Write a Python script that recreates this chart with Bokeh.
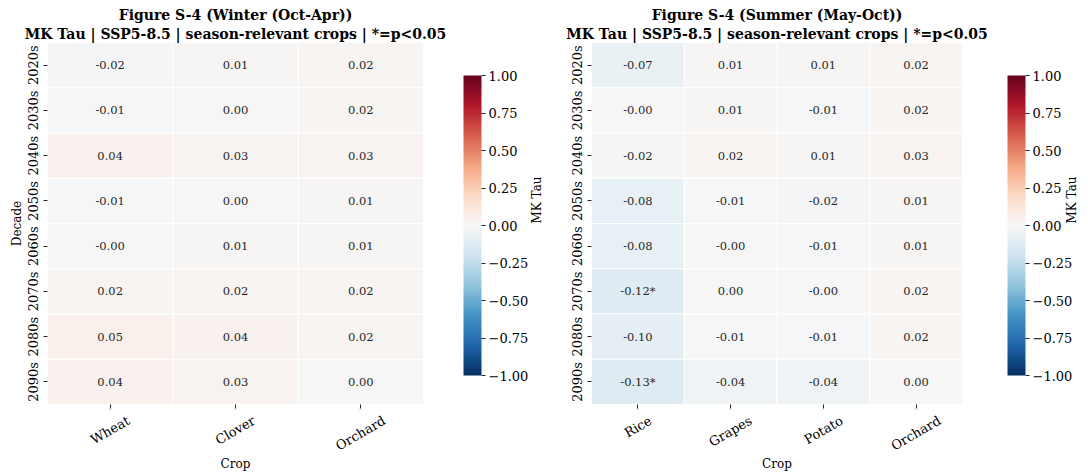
import math
import numpy as np
from bokeh.plotting import figure
from bokeh.models import (ColumnDataSource, LinearColorMapper, ColorBar, FixedTicker,
                          CustomJSTickFormatter, Title, CategoricalAxis, LinearAxis)
from bokeh.layouts import row
from bokeh.embed import file_html
from bokeh.resources import INLINE
from bokeh.core.properties import value

decades = ["2020s", "2030s", "2040s", "2050s", "2060s", "2070s", "2080s", "2090s"]

# Winter season (Oct-Apr) Mann-Kendall tau per crop
winter_crops = ["Wheat", "Clover", "Orchard"]
winter_wheat = [-0.02, -0.01, 0.04, -0.01, -0.0, 0.02, 0.05, 0.04]
winter_clover = [0.01, 0.00, 0.03, 0.00, 0.01, 0.02, 0.04, 0.03]
winter_orchard = [0.02, 0.02, 0.03, 0.01, 0.01, 0.02, 0.02, 0.00]
winter_sig = [[False] * 8, [False] * 8, [False] * 8]

# Summer season (May-Oct) Mann-Kendall tau per crop
summer_crops = ["Rice", "Grapes", "Potato", "Orchard"]
summer_rice = [-0.07, -0.0, -0.02, -0.08, -0.08, -0.12, -0.10, -0.13]
summer_grapes = [0.01, 0.01, 0.02, -0.01, -0.0, 0.00, -0.01, -0.04]
summer_potato = [0.01, -0.01, 0.01, -0.02, -0.01, -0.0, -0.01, -0.04]
summer_orchard = [0.02, 0.02, 0.03, 0.01, 0.01, 0.02, 0.02, 0.00]
summer_rice_sig = [False, False, False, False, False, True, False, True]
summer_sig = [summer_rice_sig, [False] * 8, [False] * 8, [False] * 8]

cbar_ticks = [-1.0, -0.75, -0.5, -0.25, 0.0, 0.25, 0.5, 0.75, 1.0]

# Diverging red-blue colormap (blue for negative, red for positive)
rdbu_anchors = ["#053061", "#2166ac", "#4393c3", "#92c5de", "#d1e5f0", "#f7f7f7",
                "#fddbc7", "#f4a582", "#d6604d", "#b2182b", "#67001f"]


def build_palette(anchors, n=256):
    rgb = np.array([[int(h[i:i + 2], 16) for i in (1, 3, 5)] for h in anchors], dtype=float)
    pos = np.linspace(0, 1, len(anchors))
    t = np.linspace(0, 1, n)
    chans = [np.interp(t, pos, rgb[:, k]) for k in range(3)]
    return ["#%02x%02x%02x" % (int(round(r)), int(round(g)), int(round(b)))
            for r, g, b in zip(*chans)]


palette = build_palette(rdbu_anchors)
SERIF = "DejaVu Serif"
INK = "#262626"
TICK_FONT_PX = 13
SLANT = math.pi / 6

# rough DejaVu Serif advance widths (em) used to centre slanted tick labels
_EM = {"W": 1.03, "h": 0.644, "e": 0.592, "a": 0.596, "t": 0.402, "C": 0.734, "l": 0.32,
       "o": 0.602, "v": 0.565, "r": 0.478, "O": 0.787, "c": 0.56, "d": 0.64, "R": 0.77,
       "i": 0.32, "G": 0.775, "p": 0.64, "s": 0.513, "P": 0.676}


def text_px(s, size):
    return sum(_EM.get(ch, 0.6) for ch in s) * size


def heat_panel(main_title, sub_title, crops, columns, sig, ylabel, width,
               border_left, border_right, cb_label_standoff):
    xs, ys, taus, labels = [], [], [], []
    for crop, col, flags in zip(crops, columns, sig):
        for dec, v, s in zip(decades, col, flags):
            xs.append(crop)
            ys.append(dec)
            taus.append(v)
            labels.append(f"{v:.2f}" + ("*" if s else ""))
    src = ColumnDataSource(dict(crop=xs, decade=ys, tau=taus, label=labels))
    mapper = LinearColorMapper(palette=palette, low=-1, high=1)

    p = figure(x_range=crops, y_range=list(reversed(decades)), width=width, height=474,
               output_backend="svg", toolbar_location=None, title=None,
               min_border_left=border_left, min_border_right=border_right,
               min_border_top=42, min_border_bottom=70)
    p.rect(x="crop", y="decade", width=1, height=1, source=src,
           fill_color={"field": "tau", "transform": mapper},
           line_color="white", line_width=1)
    p.text(x="crop", y="decade", text="label", source=src,
           text_align="center", text_baseline="middle",
           text_font=value(SERIF), text_font_size="11.5px", text_color=INK)

    # two-line heading: subtitle sits next to the plot, main title above it
    for txt, gap in ((sub_title, 2), (main_title, 0)):
        p.add_layout(Title(text=txt, align="center", text_font=SERIF,
                           text_font_size="14px", text_font_style="bold",
                           text_color="black", standoff=gap, offset=0), "above")

    p.grid.visible = False
    p.outline_line_color = None
    p.background_fill_color = "white"
    p.border_fill_color = "white"

    for ax in (p.xaxis, p.yaxis):
        ax.axis_line_color = None
        ax.major_tick_line_color = INK
        ax.major_tick_in = 0
        ax.major_tick_out = 4
        ax.minor_tick_line_color = None
        ax.major_label_text_font = SERIF
        ax.major_label_text_font_size = f"{TICK_FONT_PX}px"
        ax.major_label_text_color = "black"
        ax.axis_label_text_font = SERIF
        ax.axis_label_text_font_size = "12px"
        ax.axis_label_text_font_style = "normal"
        ax.axis_label_text_color = "black"
    p.yaxis.major_label_orientation = "vertical"
    p.yaxis.major_label_standoff = 3
    p.yaxis.axis_label_standoff = -1
    if ylabel:
        p.yaxis.axis_label = ylabel

    # the categorical x axis only carries the tick marks
    p.xaxis.major_label_overrides = {c: " " for c in crops}
    p.xaxis.major_label_text_font_size = "1px"
    p.xaxis.major_label_standoff = 0

    # slanted crop names: anchors nudged so each label is centred under its column
    col_px = (width - border_left - border_right) / len(crops)
    name_ticks = [i + 0.5 + text_px(c, TICK_FONT_PX) * math.cos(SLANT) / 2 / col_px
                  for i, c in enumerate(crops)]
    names_axis = LinearAxis(ticker=FixedTicker(ticks=name_ticks),
                            formatter=CustomJSTickFormatter(
                                args=dict(names=crops), code="return names[Math.floor(tick)];"),
                            axis_label="Crop", axis_line_color=None,
                            major_tick_line_color=None, minor_tick_line_color=None,
                            major_label_orientation=SLANT, major_label_standoff=1,
                            major_label_text_font=SERIF,
                            major_label_text_font_size=f"{TICK_FONT_PX}px",
                            major_label_text_color="black", axis_label_standoff=-6,
                            axis_label_text_font=SERIF, axis_label_text_font_size="12px",
                            axis_label_text_font_style="normal", axis_label_text_color="black")
    p.add_layout(names_axis, "below")

    cbar = ColorBar(color_mapper=mapper, location=(416, 29), width=18, height=300,
                    padding=0, margin=0, ticker=FixedTicker(ticks=cbar_ticks),
                    formatter=CustomJSTickFormatter(
                        code="return (tick < 0 ? '\u2212' : '') + Math.abs(tick).toFixed(2);"),
                    major_label_text_font=SERIF, major_label_text_font_size="13px",
                    major_label_text_color="black", major_tick_line_color=INK,
                    major_tick_in=0, major_tick_out=4, label_standoff=3,
                    bar_line_color=None, border_line_color=None,
                    background_fill_alpha=0)
    p.add_layout(cbar, "center")

    # colour bar caption, carried by a bare axis on the right
    cap = CategoricalAxis(ticker=FixedTicker(ticks=[]), axis_label="MK Tau",
                          axis_line_color=None, major_tick_line_color=None,
                          minor_tick_line_color=None, major_label_standoff=0,
                          axis_label_standoff=cb_label_standoff,
                          axis_label_orientation=math.pi / 2,
                          axis_label_text_font=SERIF, axis_label_text_font_size="12px",
                          axis_label_text_font_style="normal", axis_label_text_color="black")
    p.add_layout(cap, "right")
    return p


sub = "MK Tau | SSP5-8.5 | season-relevant crops | *=p<0.05"
left = heat_panel("Figure S-4 (Winter (Oct-Apr))", sub, winter_crops,
                  [winter_wheat, winter_clover, winter_orchard], winter_sig,
                  "Decade", 553, 47, 129, 113)
right = heat_panel("Figure S-4 (Summer (May-Oct))", sub, summer_crops,
                   [summer_rice, summer_grapes, summer_potato, summer_orchard], summer_sig,
                   None, 535, 38, 125, 109)

layout = row(left, right)
open("out.html", "w").write(file_html(layout, INLINE))
